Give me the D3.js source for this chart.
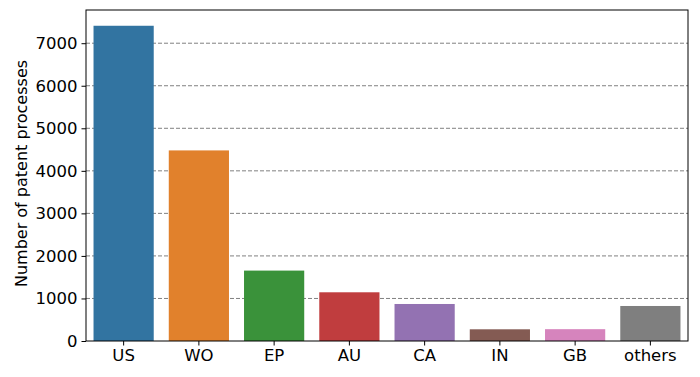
<!DOCTYPE html>
<html>
<head>
<meta charset="utf-8">
<script src="https://cdn.jsdelivr.net/npm/d3@7"></script>
<style>
  body { margin: 0; background: #fff; }
  text { font-family: "DejaVu Sans", sans-serif; }
</style>
</head>
<body>
<script>
const categories = ["US", "WO", "EP", "AU", "CA", "IN", "GB", "others"];
const counts = [7410, 4480, 1655, 1145, 870, 275, 278, 823];
const colors = ["#3274a1", "#e1812c", "#3a923a", "#c03d3e", "#9372b2", "#845b53", "#d684bd", "#7f7f7f"];
const yTicks = [0, 1000, 2000, 3000, 4000, 5000, 6000, 7000];

const width = 700, height = 377;
const margin = { top: 10, right: 12, bottom: 36, left: 86 };
const w = width - margin.left - margin.right;
const h = height - margin.top - margin.bottom;

const svg = d3.select("body").append("svg")
  .attr("width", width)
  .attr("height", height);

const g = svg.append("g")
  .attr("transform", `translate(${margin.left},${margin.top})`);

const x = d3.scaleBand()
  .domain(categories)
  .range([0, w])
  .paddingInner(0.2)
  .paddingOuter(0.1);

const y = d3.scaleLinear()
  .domain([0, d3.max(counts) * 1.05])
  .range([h, 0]);

// grid behind the bars
g.append("g")
  .selectAll("line")
  .data(yTicks.filter(d => d > 0))
  .enter()
  .append("line")
  .attr("x1", 0)
  .attr("x2", w)
  .attr("y1", d => y(d))
  .attr("y2", d => y(d))
  .attr("stroke", "#808080")
  .attr("stroke-width", 1)
  .attr("stroke-dasharray", "4,2");

g.append("g")
  .selectAll("rect")
  .data(categories)
  .enter()
  .append("rect")
  .attr("x", d => x(d))
  .attr("width", x.bandwidth())
  .attr("y", (d, i) => y(counts[i]))
  .attr("height", (d, i) => h - y(counts[i]))
  .attr("fill", (d, i) => colors[i]);

const xAxis = g.append("g")
  .attr("transform", `translate(0,${h})`)
  .call(d3.axisBottom(x).tickSize(4.5).tickPadding(4));

const yAxis = g.append("g")
  .call(d3.axisLeft(y).tickValues(yTicks).tickFormat(d3.format("d")).tickSize(4.5).tickPadding(4));

[xAxis, yAxis].forEach(a => {
  a.select(".domain").remove();
  a.selectAll("text").style("font-size", "16.5px").attr("fill", "#000");
  a.selectAll("line").attr("stroke", "#000");
});

// frame
g.append("rect")
  .attr("width", w)
  .attr("height", h)
  .attr("fill", "none")
  .attr("stroke", "#000")
  .attr("stroke-width", 1);

svg.append("text")
  .attr("transform", `translate(27,${margin.top + h / 2 - 2}) rotate(-90)`)
  .attr("text-anchor", "middle")
  .style("font-size", "16px")
  .text("Number of patent processes");
</script>
</body>
</html>
